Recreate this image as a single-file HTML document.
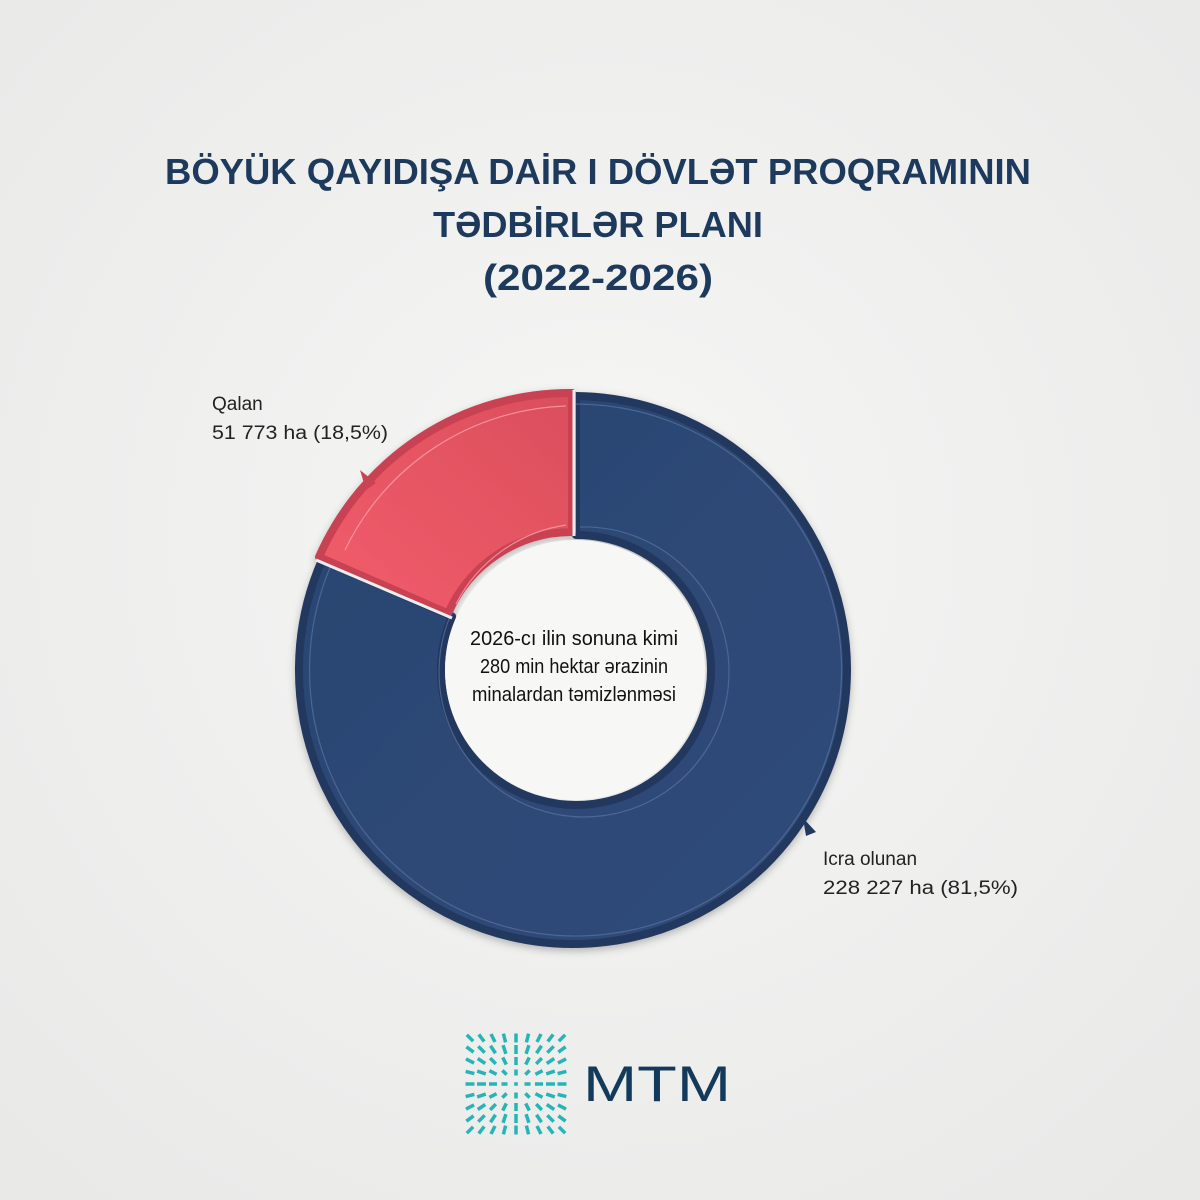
<!DOCTYPE html>
<html><head><meta charset="utf-8"><style>html,body{margin:0;padding:0;background:#efefee}svg{display:block}</style></head>
<body>
<svg width="1200" height="1200" viewBox="0 0 1200 1200" xmlns="http://www.w3.org/2000/svg">
<defs>
<radialGradient id="bg" cx="50%" cy="45%" r="70%"><stop offset="0" stop-color="#f6f6f5"/><stop offset="1" stop-color="#e9e9e8"/></radialGradient>
<linearGradient id="nv" x1="0" y1="0" x2="1" y2="1"><stop offset="0" stop-color="#2a4470"/><stop offset="1" stop-color="#304c7b"/></linearGradient>
<linearGradient id="rd" x1="0" y1="1" x2="1" y2="0"><stop offset="0" stop-color="#f25d6b"/><stop offset="1" stop-color="#db4e5c"/></linearGradient>
<filter id="sh" x="-10%" y="-10%" width="120%" height="120%"><feDropShadow dx="0" dy="3" stdDeviation="4" flood-color="#000" flood-opacity="0.25"/></filter>
</defs>
<rect width="1200" height="1200" fill="url(#bg)"/>
<g font-family="Liberation Sans, DejaVu Sans, sans-serif" font-weight="bold" fill="#1d3a5c" text-anchor="middle" font-size="36">
<text x="598" y="184" textLength="866" lengthAdjust="spacingAndGlyphs">BÖYÜK QAYIDIŞA DAİR I DÖVLƏT PROQRAMININ</text>
<text x="598" y="237" textLength="330" lengthAdjust="spacingAndGlyphs">TƏDBİRLƏR PLANI</text>
<text x="598" y="290" textLength="230" lengthAdjust="spacingAndGlyphs">(2022-2026)</text>
</g>
<g filter="url(#sh)">
<path d="M576,396 A274 274 0 1 1 322,560 L452.1,616.4 A135 135 0 1 0 576,535 Z" fill="url(#nv)" stroke="#22395f" stroke-width="8" stroke-linejoin="round"/>
<path d="M319,557 A274 274 0 0 1 572,393 L572,532 A135 135 0 0 0 448.1,613.4 Z" fill="url(#rd)" stroke="#c94352" stroke-width="8" stroke-linejoin="round"/>
</g>
<path d="M576,404 A266 266 0 1 1 332,563 M452,612 A145 145 0 1 0 580,527" fill="none" stroke="#5b74a0" stroke-width="1.2" opacity="0.7"/>
<path d="M345,550 A254 254 0 0 1 566,406 M456,604 A148 148 0 0 1 566,525" fill="none" stroke="#f7a0a8" stroke-width="1.2" opacity="0.8"/>
<line x1="574" y1="390" x2="574" y2="536" stroke="#eee" stroke-width="3"/>
<line x1="316" y1="560" x2="452" y2="618" stroke="#eee" stroke-width="3"/>
<circle cx="575" cy="670" r="130" fill="#f7f7f6"/>
<path d="M360,470 L376,483 L366,490 Z" fill="#c94352"/>
<path d="M803,818 L816,832 L806,836 Z" fill="#22395f"/>
<g font-family="Liberation Sans Narrow, Liberation Sans, sans-serif" fill="#111" text-anchor="middle" font-size="20">
<text x="574" y="645" textLength="208" lengthAdjust="spacingAndGlyphs">2026-cı ilin sonuna kimi</text>
<text x="574" y="673" textLength="188" lengthAdjust="spacingAndGlyphs">280 min hektar ərazinin</text>
<text x="574" y="701" textLength="204" lengthAdjust="spacingAndGlyphs">minalardan təmizlənməsi</text>
</g>
<g font-family="Liberation Sans, DejaVu Sans, sans-serif" fill="#222" font-size="19">
<text x="212" y="410">Qalan</text>
<text x="212" y="439" textLength="176" lengthAdjust="spacingAndGlyphs">51 773 ha (18,5%)</text>
<text x="823" y="865">Icra olunan</text>
<text x="823" y="894" textLength="195" lengthAdjust="spacingAndGlyphs">228 227 ha (81,5%)</text>
</g>
<g transform="translate(516,1084)" stroke="#27b4b7" stroke-width="3.5">
<!-- j=-4 -->
<line x1="-4.5" x2="4.5" transform="translate(-46,-46) rotate(45)"/>
<line x1="-4.5" x2="4.5" transform="translate(-34.5,-46) rotate(53.1)"/>
<line x1="-4.5" x2="4.5" transform="translate(-23,-46) rotate(63.4)"/>
<line x1="-4.5" x2="4.5" transform="translate(-11.5,-46) rotate(76)"/>
<line x1="-4.5" x2="4.5" transform="translate(0,-46) rotate(90)"/>
<line x1="-4.5" x2="4.5" transform="translate(11.5,-46) rotate(-76)"/>
<line x1="-4.5" x2="4.5" transform="translate(23,-46) rotate(-63.4)"/>
<line x1="-4.5" x2="4.5" transform="translate(34.5,-46) rotate(-53.1)"/>
<line x1="-4.5" x2="4.5" transform="translate(46,-46) rotate(-45)"/>
<!-- j=-3 -->
<line x1="-4.5" x2="4.5" transform="translate(-46,-34.5) rotate(36.9)"/>
<line x1="-4.5" x2="4.5" transform="translate(-34.5,-34.5) rotate(45)"/>
<line x1="-4.5" x2="4.5" transform="translate(-23,-34.5) rotate(56.3)"/>
<line x1="-4.5" x2="4.5" transform="translate(-11.5,-34.5) rotate(71.6)"/>
<line x1="-4.5" x2="4.5" transform="translate(0,-34.5) rotate(90)"/>
<line x1="-4.5" x2="4.5" transform="translate(11.5,-34.5) rotate(-71.6)"/>
<line x1="-4.5" x2="4.5" transform="translate(23,-34.5) rotate(-56.3)"/>
<line x1="-4.5" x2="4.5" transform="translate(34.5,-34.5) rotate(-45)"/>
<line x1="-4.5" x2="4.5" transform="translate(46,-34.5) rotate(-36.9)"/>
<!-- j=-2 -->
<line x1="-4.5" x2="4.5" transform="translate(-46,-23) rotate(26.6)"/>
<line x1="-4.5" x2="4.5" transform="translate(-34.5,-23) rotate(33.7)"/>
<line x1="-4" x2="4" transform="translate(-23,-23) rotate(45)"/>
<line x1="-4" x2="4" transform="translate(-11.5,-23) rotate(63.4)"/>
<line x1="-4" x2="4" transform="translate(0,-23) rotate(90)"/>
<line x1="-4" x2="4" transform="translate(11.5,-23) rotate(-63.4)"/>
<line x1="-4" x2="4" transform="translate(23,-23) rotate(-45)"/>
<line x1="-4.5" x2="4.5" transform="translate(34.5,-23) rotate(-33.7)"/>
<line x1="-4.5" x2="4.5" transform="translate(46,-23) rotate(-26.6)"/>
<!-- j=-1 -->
<line x1="-4.5" x2="4.5" transform="translate(-46,-11.5) rotate(14)"/>
<line x1="-4.5" x2="4.5" transform="translate(-34.5,-11.5) rotate(18.4)"/>
<line x1="-4" x2="4" transform="translate(-23,-11.5) rotate(26.6)"/>
<line x1="-3" x2="3" transform="translate(-11.5,-11.5) rotate(45)"/>
<line x1="-3" x2="3" transform="translate(0,-11.5) rotate(90)"/>
<line x1="-3" x2="3" transform="translate(11.5,-11.5) rotate(-45)"/>
<line x1="-4" x2="4" transform="translate(23,-11.5) rotate(-26.6)"/>
<line x1="-4.5" x2="4.5" transform="translate(34.5,-11.5) rotate(-18.4)"/>
<line x1="-4.5" x2="4.5" transform="translate(46,-11.5) rotate(-14)"/>
<!-- j=0 -->
<line x1="-4.5" x2="4.5" transform="translate(-46,0)"/>
<line x1="-4.5" x2="4.5" transform="translate(-34.5,0)"/>
<line x1="-4" x2="4" transform="translate(-23,0)"/>
<line x1="-3" x2="3" transform="translate(-11.5,0)"/>
<line x1="-1.8" x2="1.8" transform="translate(0,0)"/>
<line x1="-3" x2="3" transform="translate(11.5,0)"/>
<line x1="-4" x2="4" transform="translate(23,0)"/>
<line x1="-4.5" x2="4.5" transform="translate(34.5,0)"/>
<line x1="-4.5" x2="4.5" transform="translate(46,0)"/>
<!-- j=1 -->
<line x1="-4.5" x2="4.5" transform="translate(-46,11.5) rotate(-14)"/>
<line x1="-4.5" x2="4.5" transform="translate(-34.5,11.5) rotate(-18.4)"/>
<line x1="-4" x2="4" transform="translate(-23,11.5) rotate(-26.6)"/>
<line x1="-3" x2="3" transform="translate(-11.5,11.5) rotate(-45)"/>
<line x1="-3" x2="3" transform="translate(0,11.5) rotate(90)"/>
<line x1="-3" x2="3" transform="translate(11.5,11.5) rotate(45)"/>
<line x1="-4" x2="4" transform="translate(23,11.5) rotate(26.6)"/>
<line x1="-4.5" x2="4.5" transform="translate(34.5,11.5) rotate(18.4)"/>
<line x1="-4.5" x2="4.5" transform="translate(46,11.5) rotate(14)"/>
<!-- j=2 -->
<line x1="-4.5" x2="4.5" transform="translate(-46,23) rotate(-26.6)"/>
<line x1="-4.5" x2="4.5" transform="translate(-34.5,23) rotate(-33.7)"/>
<line x1="-4" x2="4" transform="translate(-23,23) rotate(-45)"/>
<line x1="-4" x2="4" transform="translate(-11.5,23) rotate(-63.4)"/>
<line x1="-4" x2="4" transform="translate(0,23) rotate(90)"/>
<line x1="-4" x2="4" transform="translate(11.5,23) rotate(63.4)"/>
<line x1="-4" x2="4" transform="translate(23,23) rotate(45)"/>
<line x1="-4.5" x2="4.5" transform="translate(34.5,23) rotate(33.7)"/>
<line x1="-4.5" x2="4.5" transform="translate(46,23) rotate(26.6)"/>
<!-- j=3 -->
<line x1="-4.5" x2="4.5" transform="translate(-46,34.5) rotate(-36.9)"/>
<line x1="-4.5" x2="4.5" transform="translate(-34.5,34.5) rotate(-45)"/>
<line x1="-4.5" x2="4.5" transform="translate(-23,34.5) rotate(-56.3)"/>
<line x1="-4.5" x2="4.5" transform="translate(-11.5,34.5) rotate(-71.6)"/>
<line x1="-4.5" x2="4.5" transform="translate(0,34.5) rotate(90)"/>
<line x1="-4.5" x2="4.5" transform="translate(11.5,34.5) rotate(71.6)"/>
<line x1="-4.5" x2="4.5" transform="translate(23,34.5) rotate(56.3)"/>
<line x1="-4.5" x2="4.5" transform="translate(34.5,34.5) rotate(45)"/>
<line x1="-4.5" x2="4.5" transform="translate(46,34.5) rotate(36.9)"/>
<!-- j=4 -->
<line x1="-4.5" x2="4.5" transform="translate(-46,46) rotate(-45)"/>
<line x1="-4.5" x2="4.5" transform="translate(-34.5,46) rotate(-53.1)"/>
<line x1="-4.5" x2="4.5" transform="translate(-23,46) rotate(-63.4)"/>
<line x1="-4.5" x2="4.5" transform="translate(-11.5,46) rotate(-76)"/>
<line x1="-4.5" x2="4.5" transform="translate(0,46) rotate(90)"/>
<line x1="-4.5" x2="4.5" transform="translate(11.5,46) rotate(76)"/>
<line x1="-4.5" x2="4.5" transform="translate(23,46) rotate(63.4)"/>
<line x1="-4.5" x2="4.5" transform="translate(34.5,46) rotate(53.1)"/>
<line x1="-4.5" x2="4.5" transform="translate(46,46) rotate(45)"/>
</g>
<text x="583" y="1101" font-family="Liberation Sans, sans-serif" font-size="50" fill="#133a5a" textLength="148" lengthAdjust="spacingAndGlyphs">MTM</text>
</svg>
</body></html>
